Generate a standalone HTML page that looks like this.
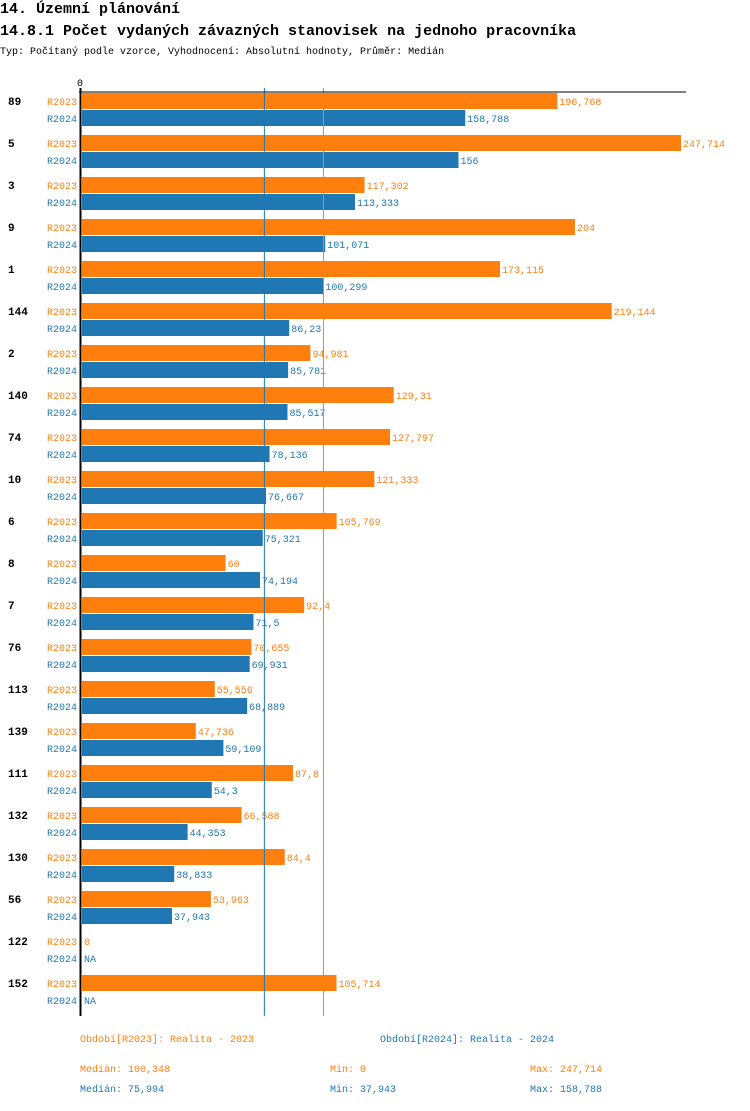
<!DOCTYPE html>
<html><head><meta charset="utf-8"><style>
body{margin:0;background:#fff;width:750px;height:1106px;overflow:hidden;font-family:"Liberation Mono",monospace}
svg text{font-family:"Liberation Mono",monospace}
</style></head><body>
<svg id="c" width="750" height="1106" xmlns="http://www.w3.org/2000/svg">
<text x="0" y="13" font-size="15" font-weight="bold">14. Územní plánování</text>
<text x="0" y="35" font-size="15" font-weight="bold">14.8.1 Počet vydaných závazných stanovisek na jednoho pracovníka</text>
<text x="0" y="54" font-size="10">Typ: Počítaný podle vzorce, Vyhodnocení: Absolutní hodnoty, Průměr: Medián</text>
<text x="77" y="86" font-size="10">0</text>
<g id="marks"></g>
<text x="80" y="1042" font-size="10" fill="#ff7f0e">Období[R2023]: Realita - 2023</text>
<text x="380" y="1042" font-size="10" fill="#1f77b4">Období[R2024]: Realita - 2024</text>
<text x="80" y="1072" font-size="10" fill="#ff7f0e">Medián: 100,348</text>
<text x="330" y="1072" font-size="10" fill="#ff7f0e">Min: 0</text>
<text x="530" y="1072" font-size="10" fill="#ff7f0e">Max: 247,714</text>
<text x="80" y="1092" font-size="10" fill="#1f77b4">Medián: 75,994</text>
<text x="330" y="1092" font-size="10" fill="#1f77b4">Min: 37,943</text>
<text x="530" y="1092" font-size="10" fill="#1f77b4">Max: 158,788</text>
</svg>
<script>
const categories=["89","5","3","9","1","144","2","140","74","10","6","8","7","76","113","139","111","132","130","56","122","152"];
const r2023=[196.768,247.714,117.302,204,173.115,219.144,94.981,129.31,127.797,121.333,105.769,60,92.4,70.655,55.556,47.736,87.8,66.588,84.4,53.963,0,105.714];
const r2024=[158.788,156,113.333,101.071,100.299,86.23,85.781,85.517,78.136,76.667,75.321,74.194,71.5,69.931,68.889,59.109,54.3,44.353,38.833,37.943,null,null];
const medians=[100.348,75.994];
const NS="http://www.w3.org/2000/svg";
const g=document.getElementById('marks');
const x0=80,k=601/247.714;
const xs=v=>x0+v*k;
const yg=i=>93+i*42;
function el(t,a){const e=document.createElementNS(NS,t);for(const n in a)e.setAttribute(n,a[n]);g.appendChild(e);return e;}
const fmt=v=>String(v).replace('.',',');
const cols=["#ff7f0e","#1f77b4"];
categories.forEach((c,i)=>{
  const y=yg(i);
  const t=el('text',{x:8,y:y+12,'font-size':11,'font-weight':'bold'});t.textContent=c;
  
  
  [r2023,r2024].forEach((s,j)=>{
    const yy=y+j*17,v=s[i];
    const l=el('text',{x:47,y:yy+12,'font-size':10,fill:cols[j]});l.textContent=j?'R2024':'R2023';
    
    
    let end=82;
    if(v!==null&&v>0){
      const r=el('rect',{x:82,y:yy,width:xs(v)-82,height:16,fill:cols[j]});
      
      
      end=xs(v);
    }
    const vt=el('text',{x:end+2,y:yy+12,'font-size':10,fill:cols[j]});vt.textContent=v===null?'NA':fmt(v);
    
    
  });
});
const m1=el('line',{x1:xs(medians[1]),x2:xs(medians[1]),y1:88,y2:1016,stroke:"#1f77b4",'stroke-width':1});


const m0=el('line',{x1:xs(medians[0]),x2:xs(medians[0]),y1:88,y2:1016,stroke:"#ff7f0e",'stroke-width':1});


const ax=el('line',{x1:80.5,x2:80.5,y1:88,y2:1016,stroke:"#000",'stroke-width':2});


const tx=el('line',{x1:79,x2:686,y1:92,y2:92,stroke:"#000",'stroke-width':1});


</script>
</body></html>
